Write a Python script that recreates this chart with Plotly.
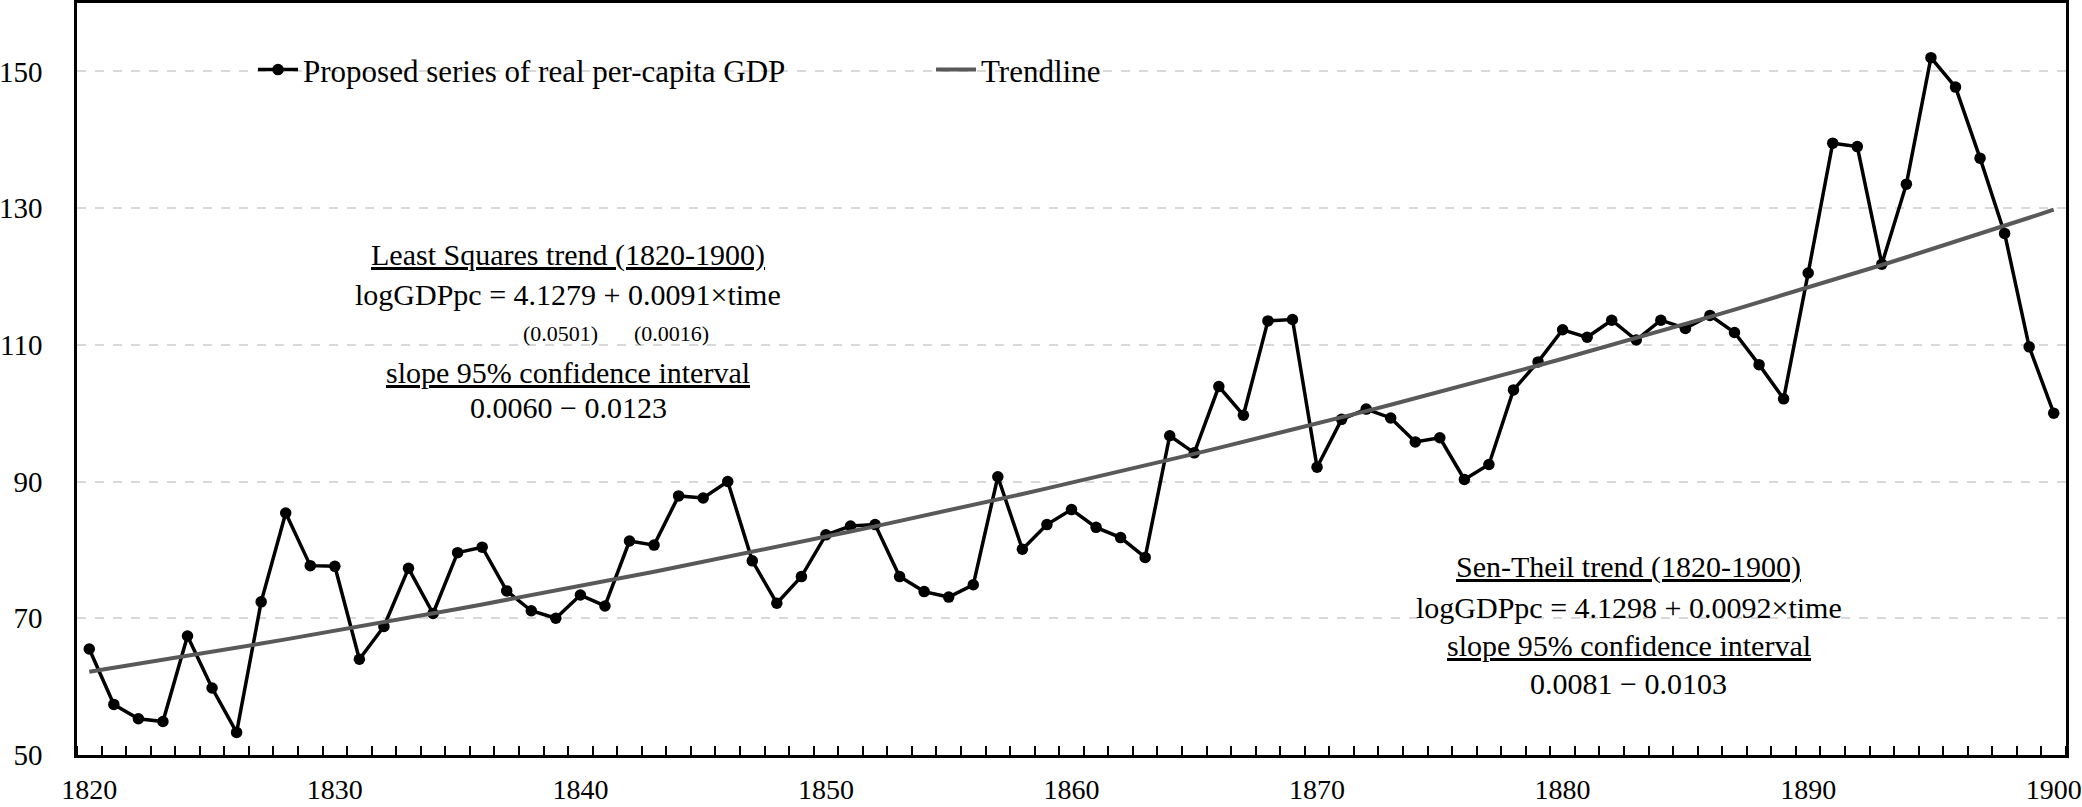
import math
import plotly.graph_objects as go

years = list(range(1820, 1901))
gdp_pc = [
    65.5, 57.4, 55.3, 54.9, 67.4, 59.8, 53.3, 72.4, 85.4, 77.7,
    77.6, 64.0, 68.8, 77.3, 70.7, 79.6, 80.4, 74.0, 71.1, 70.0,
    73.4, 71.8, 81.3, 80.7, 87.9, 87.6, 90.0, 78.4, 72.2, 76.1,
    82.2, 83.5, 83.7, 76.1, 73.9, 73.1, 74.9, 90.7, 80.1, 83.7,
    85.9, 83.3, 81.8, 78.9, 96.7, 94.2, 103.9, 99.7, 113.5, 113.7,
    92.1, 99.1, 100.6, 99.3, 95.8, 96.4, 90.3, 92.5, 103.4, 107.5,
    112.2, 111.1, 113.6, 110.7, 113.6, 112.4, 114.3, 111.8, 107.1, 102.1,
    120.5, 139.5, 139.0, 121.8, 133.5, 152.0, 147.7, 137.3, 126.3, 109.7,
    100.0,
]

# Sen-Theil trend coefficients printed in the chart (log-linear trend)
trend_intercept = 4.1298
trend_slope = 0.0092
trend = [math.exp(trend_intercept + trend_slope * (y - years[0])) for y in years]

y_ticks = [50, 70, 90, 110, 130, 150]
x_ticks = [1820, 1830, 1840, 1850, 1860, 1870, 1880, 1890, 1900]

FONT = "Liberation Serif"

fig = go.Figure()
fig.add_trace(go.Scatter(
    x=years, y=gdp_pc, mode="lines+markers",
    name="Proposed series of real per-capita GDP",
    line=dict(color="black", width=3.5),
    marker=dict(color="black", size=11.5),
))
fig.add_trace(go.Scatter(
    x=years, y=trend, mode="lines", name="Trendline",
    line=dict(color="#595959", width=4),
))

notes = [
    ("<u>Least Squares trend (1820-1900)</u>", 1839.5, 123.1, 30),
    ("logGDPpc = 4.1279 + 0.0091×time", 1839.5, 117.4, 30),
    ("(0.0501)", 1839.2, 111.6, 22),
    ("(0.0016)", 1843.7, 111.6, 22),
    ("<u>slope 95% confidence interval</u>", 1839.5, 106.0, 30),
    ("0.0060 − 0.0123", 1839.5, 100.9, 30),
    ("<u>Sen-Theil trend (1820-1900)</u>", 1882.7, 77.5, 30),
    ("logGDPpc = 4.1298 + 0.0092×time", 1882.7, 71.6, 30),
    ("<u>slope 95% confidence interval</u>", 1882.7, 66.0, 30),
    ("0.0081 − 0.0103", 1882.7, 60.5, 30),
]
for txt, x, y, sz in notes:
    fig.add_annotation(x=x, y=y, xref="x", yref="y", text=txt, showarrow=False,
                       font=dict(family=FONT, size=sz, color="black"),
                       xanchor="center", yanchor="middle")

fig.update_layout(
    width=2082, height=807,
    margin=dict(l=77, r=16, t=3, b=52, autoexpand=False),
    paper_bgcolor="white", plot_bgcolor="white",
    font=dict(family=FONT, size=30, color="black"),
    showlegend=True,
    legend=dict(
        orientation="h", x=0.0885, y=0.911, xanchor="left", yanchor="middle",
        bgcolor="rgba(0,0,0,0)", font=dict(family=FONT, size=31),
        entrywidth=623, entrywidthmode="pixels", itemwidth=40,
    ),
    xaxis=dict(
        range=[1819.5, 1900.5], tickvals=x_ticks, ticks="",
        minor=dict(tick0=1819.5, dtick=1, ticks="inside", ticklen=9, tickwidth=2,
                   tickcolor="black", showgrid=False),
        showline=True, linecolor="black", linewidth=2.5, mirror=True,
        showgrid=False, zeroline=False, tickfont=dict(family=FONT, size=28),
        ticklabelstandoff=8, ticklabeloverflow="allow", automargin=False,
    ),
    yaxis=dict(
        range=[50, 160], tickvals=y_ticks, ticks="", showline=True,
        linecolor="black", linewidth=2.5, mirror=True,
        showgrid=True, gridcolor="#d9d9d9", gridwidth=2, griddash="dash",
        zeroline=False, tickfont=dict(family=FONT, size=29),
        ticklabelstandoff=26, automargin=False,
    ),
)

fig.write_html("out.html", config={"displayModeBar": False},
               post_script="document.body.style.margin='0';")
